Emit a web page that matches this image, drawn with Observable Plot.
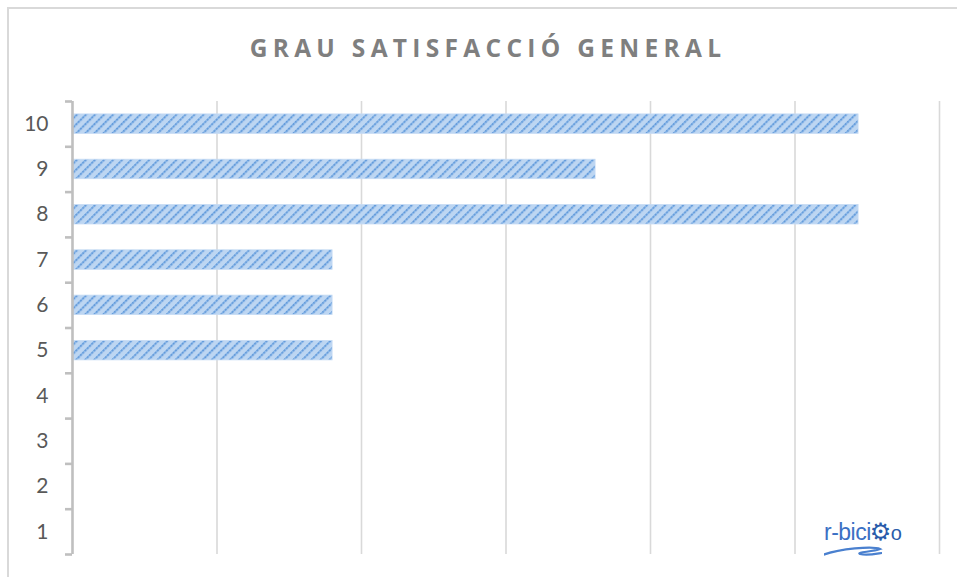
<!DOCTYPE html>
<html>
<head>
<meta charset="utf-8">
<script src="https://cdn.jsdelivr.net/npm/d3@7"></script>
<script src="https://cdn.jsdelivr.net/npm/@observablehq/plot@0.6"></script>
<style>
  html, body { margin: 0; padding: 0; background: #fff; overflow: hidden; }
  #wrap { position: relative; width: 957px; height: 577px; overflow: hidden; }
  #frame { position: absolute; left: 7px; top: 7px; width: 1000px; height: 700px; border: 2px solid #d9d9d9; box-sizing: border-box; }
  #title { position: absolute; left: 0; width: 976px; top: 31px; text-align: center;
           font-family: "Open Sans", sans-serif; font-weight: 700; font-size: 24.5px;
           letter-spacing: 5.3px; color: #7f7f7f; line-height: 34px; }
  #chart { position: absolute; left: 0; top: 0; }
  #logo { position: absolute; left: 824px; top: 518px; width: 110px; height: 44px; }
  #logo .txt { position: absolute; left: 0; top: 0; font-family: "Liberation Sans", sans-serif;
          font-size: 23px; color: #3b70c4; white-space: nowrap; letter-spacing: -0.5px; }
  #logo .gear { color: #2a5caa; font-family: "DejaVu Sans"; font-size: 24px; margin-left: -1px; }
  #logo svg { position: absolute; left: 0; top: 0; }
</style>
</head>
<body>
<div id="wrap">
  <div id="frame"></div>
  <div id="chart"></div>
  <div id="title">GRAU SATISFACCIÓ GENERAL</div>
  <div id="logo">
    <svg width="110" height="44"><path d="M-4,38 C15,30 50,28 56,31 C48,34 32,34 36,36 C44,38 56,35 58,35" fill="none" stroke="#4a80cf" stroke-width="2.2"/></svg>
    <div class="txt">r-bici<span class="gear">⚙</span><span style="color:#2a5caa;font-size:20px">o</span></div>
  </div>
</div>
<script>
// Satisfaction grade categories (1..10)
const grades = [1, 2, 3, 4, 5, 6, 7, 8, 9, 10];
// Share of responses per grade (percent)
const shares = [0, 0, 0, 0, 9.0, 9.0, 9.0, 27.2, 18.1, 27.2];
// Value-axis gridline positions (percent)
const gridTicks = [5, 10, 15, 20, 25, 30];

const rows = grades.map((g, i) => ({grade: g, pct: shares[i] / 100}));
const half = 0.215;
const boundaries = d3.range(0.5, 11, 1);

const plot = Plot.plot({
  width: 957,
  height: 577,
  marginTop: 101,
  marginBottom: 23,
  marginLeft: 72,
  marginRight: 18,
  style: {background: "transparent", overflow: "visible"},
  x: {domain: [0, 0.30], axis: null},
  y: {domain: [0.5, 10.5], axis: null},
  marks: [
    Plot.gridX(gridTicks.map(d => d / 100), {stroke: "#d9d9d9", strokeOpacity: 1, strokeWidth: 1.6}),
    Plot.rectX(rows.filter(d => d.pct > 0), {
      x1: 0, x2: "pct",
      y1: d => d.grade - half, y2: d => d.grade + half,
      fill: "url(#barpat)", stroke: "#c6dbf4", strokeWidth: 0.8
    }),
    Plot.ruleX([0], {stroke: "#bfbfbf", strokeWidth: 2.6}),
    Plot.axisY(boundaries, {tickSize: 7, tickFormat: () => "", stroke: "#bfbfbf", strokeWidth: 2.6, strokeOpacity: 1}),
    Plot.axisY(grades, {tickSize: 0, tickPadding: 24, fontSize: 21, fill: "#595959",
      fontFamily: "Lato, 'Open Sans', sans-serif"})
  ]
});

const svg = d3.select(plot);
const defs = svg.insert("defs", ":first-child");
const pat = defs.append("pattern")
  .attr("id", "barpat")
  .attr("patternUnits", "userSpaceOnUse")
  .attr("width", 6.4).attr("height", 6.4)
  .attr("patternTransform", "rotate(45)");
pat.append("rect").attr("width", 6.4).attr("height", 6.4).attr("fill", "#bdd6f2");
pat.append("rect").attr("x", 0).attr("y", 0).attr("width", 2).attr("height", 6.4)
  .attr("fill", "#8db9e9");
pat.append("rect").attr("x", 0).attr("y", 1).attr("width", 2).attr("height", 1.6)
  .attr("fill", "#6199da");
pat.append("rect").attr("x", 0).attr("y", 4.2).attr("width", 2).attr("height", 1.6)
  .attr("fill", "#6199da");

document.getElementById("chart").appendChild(plot);
</script>
</body>
</html>
